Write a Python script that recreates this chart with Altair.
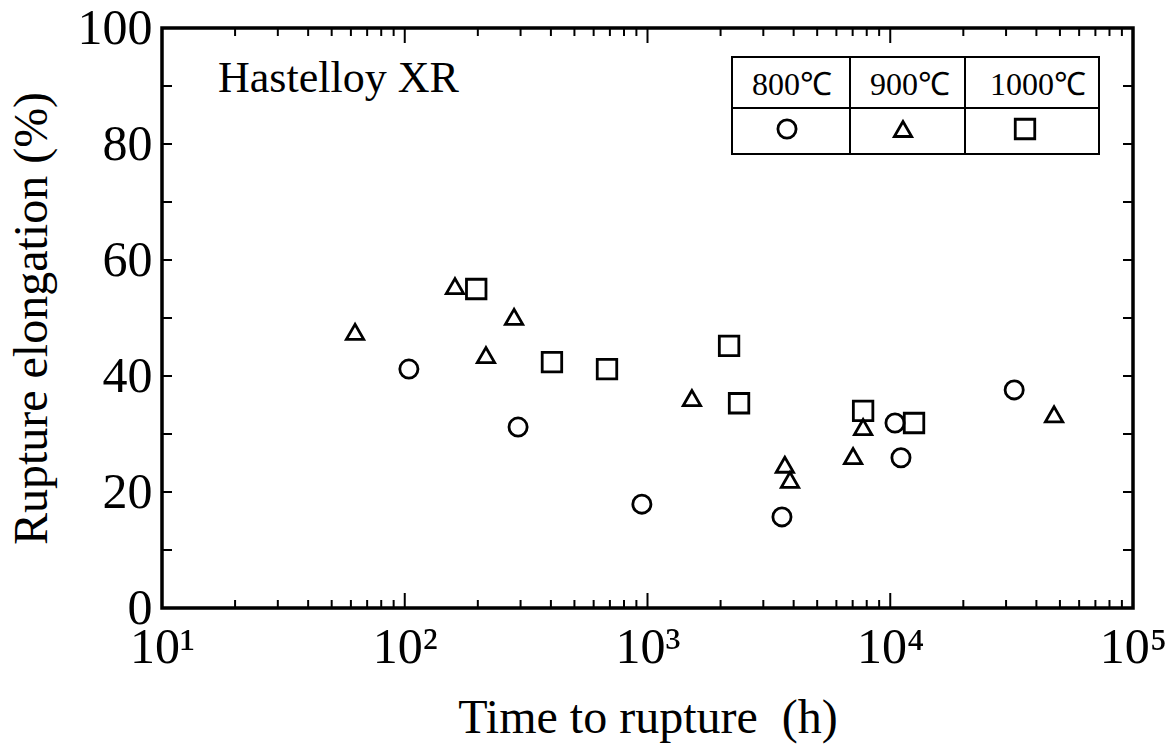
import altair as alt
import pandas as pd

# ---- data ----
temps = ["800℃", "900℃", "1000℃"]

t800_time = [104, 293, 948, 3580, 10460, 11070, 32400]
t800_elong = [41.2, 31.2, 17.9, 15.7, 31.9, 25.9, 37.6]

t900_time = [62.4, 161, 216, 282, 1524, 3680, 3864, 7030, 7730, 47300]
t900_elong = [47.6, 55.5, 43.6, 50.2, 36.2, 24.7, 22.1, 26.2, 31.2, 33.4]

t1000_time = [197, 404, 681, 2168, 2383, 7730, 12530]
t1000_elong = [55.0, 42.4, 41.2, 45.2, 35.3, 34.0, 31.9]

x_major = [10, 100, 1000, 10000, 100000]
x_minor = [m * 10 ** d for d in range(1, 5) for m in range(2, 10)]
y_major = [0, 20, 40, 60, 80, 100]
y_ticks = [10, 20, 30, 40, 50, 60, 70, 80, 90]

W, H = 971, 580
FONT = "Liberation Serif"

xs = alt.Scale(type="log", domain=[10, 100000], nice=False)
ys = alt.Scale(domain=[0, 100], nice=False, zero=False)

XAX = alt.Axis(values=x_major, ticks=False, domain=False, grid=False,
               labelExpr="'10' + ['¹','²','³','⁴','⁵'][round(log(datum.value)/LN10) - 1]",
               labelFontSize=50, labelPadding=14, labelFlush=False,
               labelOverlap=False, titleFontSize=48, titlePadding=22)
YAX = alt.Axis(values=y_major, ticks=False, domain=False, grid=False,
               labelFontSize=50, labelPadding=10, labelFlush=False,
               labelOverlap=False, titleFontSize=48, titlePadding=21)
XT = "Time to rupture\u00a0 (h)"
YT = "Rupture elongation (%)"

def X(f):
    return alt.X(f, scale=xs, axis=XAX, title=XT)

def Y(f):
    return alt.Y(f, scale=ys, axis=YAX, title=YT)

def pts(times, el, shape, size):
    df = pd.DataFrame({"time": times, "elong": el})
    return alt.Chart(df).mark_point(
        shape=shape, size=size, filled=False, color="black", strokeWidth=2.8, opacity=1
    ).encode(x=X("time:Q"), y=Y("elong:Q"))

xmin_df = pd.DataFrame({"t": x_minor})
xmaj_df = pd.DataFrame({"t": x_major})
ytk_df = pd.DataFrame({"v": y_ticks})

def xrule(df, y1, y2):
    return alt.Chart(df).mark_rule(color="black", strokeWidth=2).encode(
        x=X("t:Q"), y=alt.value(y1), y2=alt.value(y2))

def yrule(df, x1, x2):
    return alt.Chart(df).mark_rule(color="black", strokeWidth=2).encode(
        y=Y("v:Q"), x=alt.value(x1), x2=alt.value(x2))

ticks = [
    xrule(xmin_df, H, H - 8), xrule(xmin_df, 0, 8),
    xrule(xmaj_df, H, H - 15), xrule(xmaj_df, 0, 15),
    yrule(ytk_df, 0, 10), yrule(ytk_df, W, W - 10),
]

# ---- title inside plot ----
title_txt = alt.Chart(pd.DataFrame({"s": ["Hastelloy XR"]})).mark_text(
    font=FONT, fontSize=44, align="left", baseline="alphabetic", color="black"
).encode(text="s:N", x=alt.value(56), y=alt.value(64))

# ---- legend table ----
LX0, LX1, LY0, LY1, LYM = 570, 937, 29, 126, 80
CX1, CX2 = 688, 803
one = pd.DataFrame({"a": [0]})
leg_box = alt.Chart(one).mark_rect(
    fill="white", stroke="black", strokeWidth=2
).encode(x=alt.value(LX0), x2=alt.value(LX1), y=alt.value(LY0), y2=alt.value(LY1))
leg_lines = [
    alt.Chart(one).mark_rule(color="black", strokeWidth=2).encode(
        x=alt.value(LX0), x2=alt.value(LX1), y=alt.value(LYM)),
    alt.Chart(one).mark_rule(color="black", strokeWidth=2).encode(
        x=alt.value(CX1), y=alt.value(LY0), y2=alt.value(LY1)),
    alt.Chart(one).mark_rule(color="black", strokeWidth=2).encode(
        x=alt.value(CX2), y=alt.value(LY0), y2=alt.value(LY1)),
]
leg_x = [630, 748, 876]
leg_text = [
    alt.Chart(pd.DataFrame({"s": [t]})).mark_text(
        font=FONT, fontSize=32, align="center", baseline="alphabetic", color="black"
    ).encode(text="s:N", x=alt.value(px), y=alt.value(67))
    for t, px in zip(temps, leg_x)
]
leg_shapes = ["circle", "triangle-up", "square"]
leg_sizes = [330, 300, 380]
leg_sym = [
    alt.Chart(one).mark_point(
        shape=sh, size=sz, filled=False, color="black", strokeWidth=2.8, opacity=1
    ).encode(x=alt.value(px), y=alt.value(101))
    for sh, sz, px in zip(leg_shapes, leg_sizes, [625, 741, 863])
]

chart = alt.layer(
    *ticks,
    pts(t800_time, t800_elong, "circle", 330),
    pts(t900_time, t900_elong, "triangle-up", 300),
    pts(t1000_time, t1000_elong, "square", 380),
    title_txt,
    leg_box, *leg_lines, *leg_text, *leg_sym,
).properties(
    width=W, height=H,
    autosize=alt.AutoSizeParams(type="none"),
    padding={"left": 162, "top": 28, "right": 36, "bottom": 141},
    background="white",
).configure_view(
    stroke="black", strokeWidth=3.5
).configure_axis(
    labelFont=FONT, titleFont=FONT, labelColor="black", titleColor="black",
    titleFontWeight="normal",
)

chart.save("out.html", embed_options={"renderer": "svg", "actions": False})
